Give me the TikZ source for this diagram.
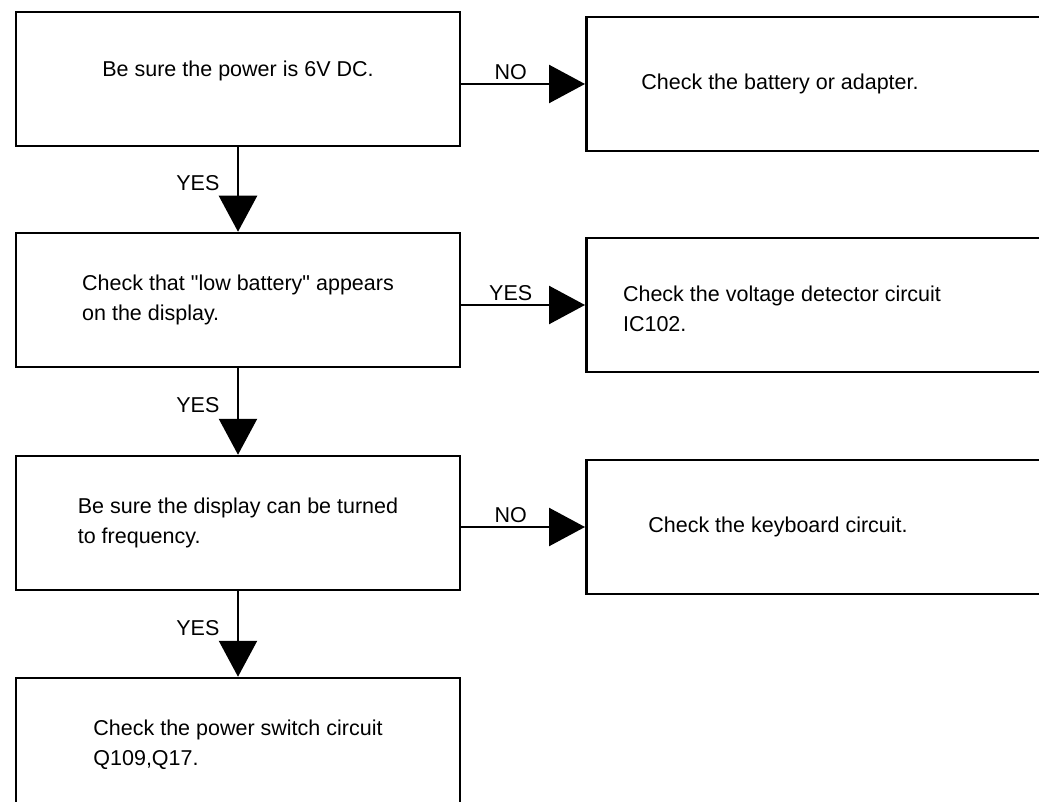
\documentclass[tikz,border=0pt]{standalone}
\usepackage{fontspec}
\newfontfamily\flowfont{Liberation Sans}
\usetikzlibrary{arrows.meta}

\begin{document}
\begin{tikzpicture}[x=1pt,y=-1pt,
    font=\flowfont\fontsize{21.5}{30}\selectfont,
    box/.style={draw, line width=2.5pt, minimum width=444pt, minimum height=134pt, align=left},
    side/.style={draw, line width=2.5pt, minimum width=480pt, minimum height=134pt, anchor=west},
    flow/.style={line width=2.5pt, -{Triangle[length=36pt,width=38pt]}},
    ]
    \clip (0,0) rectangle (1039,802);

    % Left column: the checks
    \node[box, text depth=20pt] (power) at (238,79) {Be sure the power is 6V DC.};
    \node[box] (lowbat) at (238,300) {Check that "low battery" appears\\on the display.};
    \node[box] (freq) at (238,523) {Be sure the display can be turned\\to frequency.};
    \node[box] (switch) at (238,745) {Check the power switch circuit\\Q109,Q17.};

    % Right column: the remedies (boxes run off the page)
    \node[side] (battery) at (585,84) {};
    \node (batterytext) at (780,84) {Check the battery or adapter.};
    \node[side] (detector) at (585,305) {};
    \node[align=left] (detectortext) at (782,309) {Check the voltage detector circuit\\IC102.};
    \node[side] (keyboard) at (585,527) {};
    \node (keyboardtext) at (778,527) {Check the keyboard circuit.};

    % YES arrows down
    \draw[flow] (power.south) -- node[left=14pt, pos=0.43] {YES} (lowbat.north);
    \draw[flow] (lowbat.south) -- node[left=14pt, pos=0.43] {YES} (freq.north);
    \draw[flow] (freq.south) -- node[left=14pt, pos=0.43] {YES} (switch.north);

    % side arrows
    \draw[flow] (battery.west -| power.east) -- node[above, pos=0.4] {NO} (battery.west);
    \draw[flow] (detector.west -| lowbat.east) -- node[above, pos=0.4] {YES} (detector.west);
    \draw[flow] (keyboard.west -| freq.east) -- node[above, pos=0.4] {NO} (keyboard.west);
\end{tikzpicture}
\end{document}
